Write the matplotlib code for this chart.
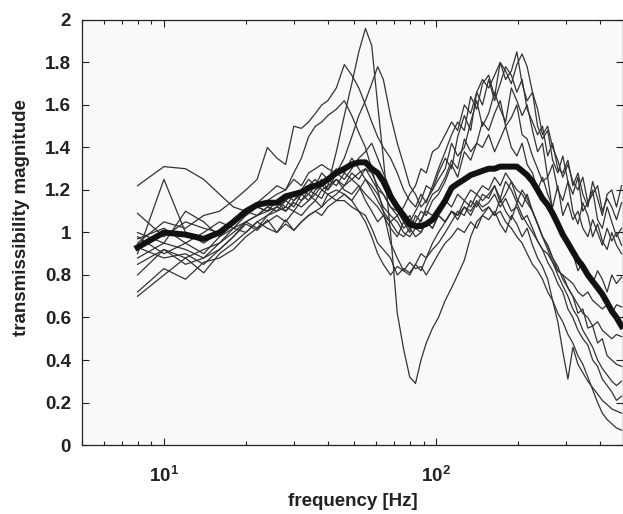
import matplotlib
matplotlib.use("Agg")
import matplotlib.pyplot as plt
import numpy as np
from matplotlib.ticker import FixedLocator, LogLocator, NullFormatter, FuncFormatter

plt.rcParams["font.family"] = ["Liberation Sans", "DejaVu Sans"]
plt.rcParams["font.weight"] = "bold"
plt.rcParams["mathtext.fontset"] = "custom"
plt.rcParams["mathtext.rm"] = "Liberation Sans:bold"
plt.rcParams["mathtext.it"] = "Liberation Sans:bold"
plt.rcParams["mathtext.bf"] = "Liberation Sans:bold"

# frequency grid [Hz]
freq = [8, 10, 12, 14, 16, 18, 20, 22, 24, 26, 28, 30, 32, 34, 36, 38, 40,
        43, 46, 49, 52, 55, 58, 61, 64,
        68, 72, 76, 80, 84, 88, 92, 97,
        102, 108, 114, 120, 127, 134, 141, 148,
        156, 164, 172, 180, 189, 198, 207, 216,
        226, 236, 246, 257, 268, 280, 292, 305,
        318, 332, 346, 361, 376, 392, 408, 425,
        442, 460, 480]

# individual measurements
t01 = [1.00, 0.95, 0.92, 0.88, 0.95, 1.02, 1.05, 1.08, 1.10, 1.12, 1.10, 1.14, 1.12, 1.15, 1.18, 1.16, 1.22,
       1.38, 1.55, 1.70, 1.85, 1.96, 1.88, 1.60, 1.35,
       1.00, 0.62, 0.45, 0.32, 0.29, 0.40, 0.48, 0.55,
       0.60, 0.68, 0.74, 0.80, 0.87, 0.98, 1.05, 1.08,
       1.12, 1.08, 1.16, 1.10, 1.06, 1.14, 1.08, 1.04,
       1.00, 0.96, 0.92, 0.86, 0.82, 0.76, 0.72, 0.64,
       0.60, 0.54, 0.50, 0.47, 0.40, 0.37, 0.31, 0.28,
       0.25, 0.21, 0.23]
t02 = [0.95, 1.05, 1.02, 1.08, 1.10, 1.15, 1.20, 1.25, 1.40, 1.35, 1.32, 1.50, 1.49, 1.52, 1.56, 1.60, 1.62,
       1.68, 1.79, 1.74, 1.68, 1.60, 1.52, 1.45, 1.40,
       1.35, 1.28, 1.20, 1.15, 1.12, 1.18, 1.14, 1.22,
       1.30, 1.38, 1.46, 1.52, 1.48, 1.64, 1.58, 1.70,
       1.74, 1.64, 1.80, 1.72, 1.76, 1.85, 1.70, 1.62,
       1.66, 1.50, 1.44, 1.48, 1.34, 1.28, 1.36, 1.24,
       1.18, 1.26, 1.10, 1.14, 1.20, 1.06, 1.02, 1.12,
       1.05, 0.98, 1.02]
t03 = [0.90, 1.25, 1.00, 0.95, 1.00, 1.05, 1.08, 1.12, 1.10, 1.15, 1.18, 1.15, 1.20, 1.18, 1.22, 1.25, 1.20,
       1.28, 1.35, 1.45, 1.55, 1.62, 1.70, 1.78, 1.72,
       1.55, 1.42, 1.32, 1.22, 1.18, 1.12, 1.15, 1.20,
       1.25, 1.30, 1.42, 1.36, 1.40, 1.52, 1.62, 1.50,
       1.56, 1.66, 1.58, 1.52, 1.68, 1.62, 1.55, 1.60,
       1.48, 1.38, 1.42, 1.26, 1.32, 1.20, 1.15, 1.24,
       1.10, 1.04, 1.14, 1.08, 0.98, 1.04, 0.96, 0.92,
       1.00, 0.94, 0.90]
t04 = [1.22, 1.31, 1.30, 1.25, 1.18, 1.12, 1.10, 1.12, 1.15, 1.18, 1.20, 1.28, 1.35, 1.45, 1.50, 1.52, 1.55,
       1.58, 1.62, 1.55, 1.47, 1.40, 1.30, 1.20, 1.10,
       0.95, 0.88, 0.82, 0.80, 0.85, 0.82, 0.88, 0.92,
       0.95, 1.00, 1.05, 1.10, 1.08, 1.15, 1.12, 1.18,
       1.16, 1.22, 1.14, 1.18, 1.24, 1.16, 1.12, 1.18,
       1.10, 1.04, 0.98, 0.94, 0.88, 0.84, 0.78, 0.74,
       0.70, 0.62, 0.64, 0.55, 0.56, 0.48, 0.50, 0.42,
       0.40, 0.38, 0.37]
t05 = [0.80, 0.92, 0.88, 0.81, 0.90, 0.95, 1.00, 1.05, 1.08, 1.10, 1.12, 1.10, 1.15, 1.18, 1.15, 1.20, 1.18,
       1.15, 1.15, 1.12, 1.10, 1.05, 0.98, 0.90, 0.85,
       0.80, 0.84, 0.82, 0.86, 0.83, 0.84, 0.80, 0.85,
       0.90, 0.95, 0.98, 1.02, 1.00, 1.05, 1.02, 1.08,
       1.06, 1.10, 1.04, 1.00, 1.08, 1.04, 0.98, 1.02,
       0.94, 0.88, 0.84, 0.78, 0.68, 0.58, 0.44, 0.31,
       0.46, 0.38, 0.34, 0.30, 0.27, 0.24, 0.21, 0.19,
       0.17, 0.16, 0.15]
t06 = [0.72, 0.83, 0.78, 0.86, 0.88, 0.92, 0.98, 1.02, 1.05, 1.08, 1.05, 1.10, 1.08, 1.12, 1.15, 1.12, 1.18,
       1.20, 1.18, 1.15, 1.10, 1.08, 1.02, 0.95, 0.92,
       0.88, 0.80, 0.83, 0.81, 0.85, 0.90, 0.88, 0.95,
       1.00, 1.05, 1.10, 1.08, 1.15, 1.12, 1.18, 1.15,
       1.18, 1.22, 1.16, 1.24, 1.20, 1.14, 1.20, 1.16,
       1.10, 1.04, 0.98, 0.94, 0.88, 0.82, 0.80, 0.74,
       0.70, 0.66, 0.62, 0.60, 0.56, 0.58, 0.54, 0.52,
       0.50, 0.52, 0.51]
t07 = [0.98, 0.90, 0.95, 1.00, 1.05, 1.02, 1.08, 1.12, 1.10, 1.15, 1.12, 1.18, 1.20, 1.25, 1.22, 1.28, 1.25,
       1.30, 1.28, 1.35, 1.30, 1.25, 1.20, 1.15, 1.10,
       1.05, 1.08, 1.02, 1.05, 1.10, 1.15, 1.22, 1.20,
       1.28, 1.35, 1.30, 1.45, 1.55, 1.48, 1.66, 1.60,
       1.72, 1.62, 1.70, 1.78, 1.74, 1.66, 1.72, 1.58,
       1.52, 1.46, 1.50, 1.36, 1.42, 1.30, 1.28, 1.34,
       1.22, 1.28, 1.18, 1.12, 1.24, 1.16, 1.08, 1.18,
       1.20, 1.12, 1.22]
t08 = [0.93, 0.88, 0.90, 0.85, 0.92, 0.98, 1.05, 1.02, 1.08, 1.12, 1.15, 1.12, 1.18, 1.22, 1.25, 1.20, 1.22,
       1.25, 1.20, 1.18, 1.22, 1.15, 1.10, 1.05, 1.08,
       1.02, 0.98, 1.05, 1.00, 1.08, 1.05, 1.12, 1.18,
       1.20, 1.26, 1.34, 1.30, 1.44, 1.38, 1.42, 1.52,
       1.48, 1.56, 1.62, 1.50, 1.54, 1.60, 1.46, 1.44,
       1.36, 1.30, 1.24, 1.26, 1.10, 1.06, 1.00, 0.94,
       0.90, 0.82, 0.86, 0.80, 0.76, 0.82, 0.78, 0.72,
       0.80, 0.76, 0.79]
t09 = [1.09, 0.98, 1.05, 1.02, 1.00, 1.05, 1.10, 1.08, 1.12, 1.10, 1.15, 1.18, 1.15, 1.20, 1.18, 1.22, 1.20,
       1.25, 1.22, 1.28, 1.25, 1.30, 1.25, 1.20, 1.18,
       1.12, 1.08, 1.12, 1.18, 1.22, 1.30, 1.28, 1.38,
       1.40, 1.46, 1.52, 1.48, 1.60, 1.56, 1.66, 1.72,
       1.68, 1.74, 1.80, 1.76, 1.70, 1.79, 1.84, 1.78,
       1.66, 1.58, 1.46, 1.50, 1.40, 1.34, 1.26, 1.32,
       1.24, 1.20, 1.26, 1.14, 1.18, 1.22, 1.10, 1.16,
       1.12, 1.06, 1.14]
t10 = [0.88, 0.95, 1.10, 1.05, 0.98, 1.02, 1.00, 1.05, 1.02, 1.00, 1.06, 1.01, 1.05, 1.08, 1.10, 1.08, 1.12,
       1.15, 1.18, 1.15, 1.20, 1.25, 1.22, 1.18, 1.12,
       1.08, 1.05, 1.00, 0.98, 1.02, 1.00, 1.05, 1.02,
       1.08, 1.05, 1.10, 1.08, 1.12, 1.10, 1.15, 1.12,
       1.14, 1.18, 1.12, 1.16, 1.10, 1.12, 1.06, 1.08,
       1.02, 0.96, 0.92, 0.90, 0.86, 0.82, 0.80, 0.78,
       0.76, 0.72, 0.70, 0.72, 0.68, 0.66, 0.64, 0.66,
       0.62, 0.66, 0.65]
t11 = [0.70, 0.80, 0.88, 0.92, 0.95, 1.00, 1.05, 1.08, 1.12, 1.15, 1.10, 1.15, 1.18, 1.15, 1.20, 1.22, 1.25,
       1.22, 1.28, 1.25, 1.22, 1.18, 1.15, 1.12, 1.08,
       1.05, 1.00, 0.98, 1.02, 0.98, 1.00, 1.05, 1.02,
       1.08, 1.05, 1.10, 1.06, 1.12, 1.08, 1.14, 1.10,
       1.12, 1.08, 1.10, 1.05, 1.02, 0.98, 0.95, 0.90,
       0.85, 0.82, 0.78, 0.72, 0.68, 0.62, 0.58, 0.52,
       0.48, 0.42, 0.38, 0.32, 0.26, 0.20, 0.15, 0.12,
       0.10, 0.08, 0.07]
t12 = [0.85, 0.92, 0.85, 0.88, 0.92, 0.98, 1.04, 1.01, 1.06, 1.00, 1.04, 1.01, 1.05, 1.08, 1.10, 1.12, 1.15,
       1.18, 1.22, 1.25, 1.28, 1.30, 1.28, 1.22, 1.18,
       1.12, 1.10, 1.05, 1.08, 1.02, 1.06, 1.10, 1.08,
       1.12, 1.15, 1.12, 1.18, 1.15, 1.20, 1.18, 1.22,
       1.20, 1.26, 1.22, 1.28, 1.24, 1.20, 1.18, 1.14,
       1.10, 1.04, 0.98, 0.92, 0.86, 0.80, 0.75, 0.70,
       0.64, 0.60, 0.54, 0.50, 0.46, 0.40, 0.36, 0.33,
       0.30, 0.28, 0.30]
t13 = [0.97, 1.02, 0.95, 0.90, 0.98, 1.04, 1.10, 1.14, 1.18, 1.22, 1.20, 1.25, 1.22, 1.28, 1.30, 1.32, 1.30,
       1.28, 1.25, 1.30, 1.35, 1.38, 1.42, 1.35, 1.28,
       1.20, 1.12, 1.05, 1.02, 1.05, 1.10, 1.08, 1.15,
       1.18, 1.24, 1.32, 1.26, 1.38, 1.34, 1.42, 1.40,
       1.46, 1.38, 1.44, 1.50, 1.40, 1.36, 1.42, 1.32,
       1.28, 1.20, 1.26, 1.18, 1.12, 1.22, 1.08, 1.14,
       1.06, 1.10, 1.02, 0.98, 1.06, 1.00, 0.94, 1.02,
       0.96, 1.00, 0.94]

# average transmissibility (thick line)
t_mean = [0.93, 1.00, 0.99, 0.97, 1.00, 1.05, 1.10, 1.13, 1.14, 1.14, 1.17, 1.18, 1.19, 1.21, 1.22, 1.23, 1.25,
          1.28, 1.30, 1.32, 1.33, 1.33, 1.30, 1.28, 1.24,
          1.17, 1.12, 1.08, 1.04, 1.03, 1.03, 1.04, 1.06,
          1.10, 1.15, 1.21, 1.23, 1.25, 1.27, 1.28, 1.29,
          1.30, 1.30, 1.31, 1.31, 1.31, 1.31, 1.29, 1.27,
          1.24, 1.20, 1.16, 1.13, 1.09, 1.04, 0.99, 0.95,
          0.91, 0.87, 0.84, 0.80, 0.77, 0.74, 0.71, 0.67,
          0.63, 0.60, 0.56]

curves = [t01, t02, t03, t04, t05, t06, t07, t08, t09, t10, t11, t12, t13]

fig = plt.figure(figsize=(6.23, 5.14), dpi=100)
ax = fig.add_axes([0.1316, 0.1342, 0.868, 0.827])
ax.set_facecolor("#f9f9f9")

for c in curves:
    ax.plot(freq, c, color="#333333", lw=0.9)
ax.plot(freq, t_mean, color="#111111", lw=4.3, solid_joinstyle="round")

ax.set_xscale("log")
ax.set_xlim(5, 485)
ax.set_ylim(0, 2)
ax.set_yticks(np.arange(0, 2.01, 0.2))
ax.yaxis.set_major_formatter(FuncFormatter(lambda v, p: "%g" % round(v, 1)))
ax.xaxis.set_major_locator(FixedLocator([10, 100]))
ax.xaxis.set_major_formatter(FuncFormatter(lambda v, p: r"$\mathregular{10^{%d}}$" % round(np.log10(v))))
ax.xaxis.set_minor_locator(LogLocator(base=10, subs=np.arange(2, 10)))
ax.xaxis.set_minor_formatter(NullFormatter())

ax.tick_params(which="both", direction="in", top=True, right=True, labelsize=13.5, colors="#222222")
ax.tick_params(which="major", length=5, width=0.8)
ax.tick_params(which="minor", length=3, width=0.8)
ax.tick_params(axis="x", pad=15)
ax.tick_params(axis="y", pad=8)
for s in ax.spines.values():
    s.set_color("#222222")
    s.set_linewidth(0.9)

ax.set_xlabel("frequency [Hz]", fontsize=13.5, fontweight="bold", color="#222222", labelpad=5)
ax.set_ylabel("transmissibility magnitude", fontsize=13.5, fontweight="bold", color="#222222")
ax.yaxis.set_label_coords(-0.096, 0.535)

fig.savefig("out.png", dpi=100)
